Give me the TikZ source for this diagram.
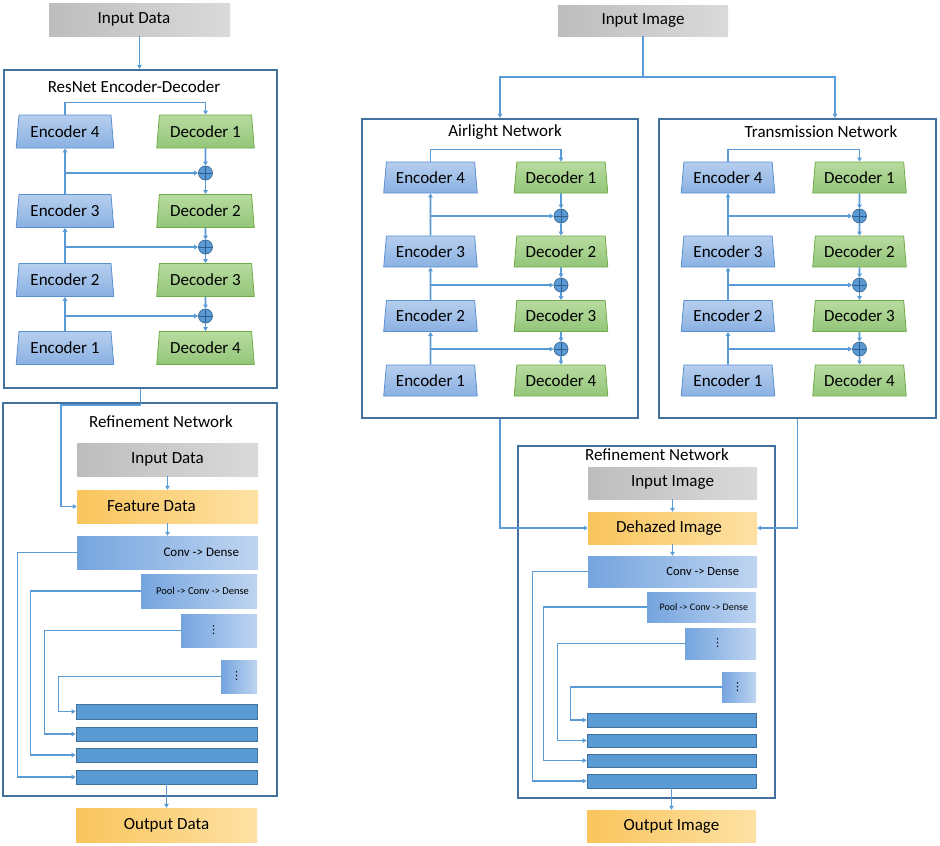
\documentclass[tikz,border=0pt]{standalone}
\usepackage{fontspec}
\setmainfont{Carlito}
\newfontfamily\symfont{DejaVu Sans}
\usetikzlibrary{shapes.geometric,arrows.meta}

\definecolor{frameblue}{HTML}{41719C}
\definecolor{lineblue}{HTML}{5B9BD5}
\definecolor{enctop}{HTML}{B6CEEE}
\definecolor{encbot}{HTML}{8AB1E2}
\definecolor{encline}{HTML}{5A8FD2}
\definecolor{dectop}{HTML}{B8DBA0}
\definecolor{decbot}{HTML}{93C679}
\definecolor{decline}{HTML}{70AD47}
\definecolor{grayl}{HTML}{BDBDBD}
\definecolor{grayr}{HTML}{DADADA}
\definecolor{orgl}{HTML}{F9C55C}
\definecolor{orgr}{HTML}{FDE1A4}
\definecolor{convl}{HTML}{75A4DE}
\definecolor{convr}{HTML}{BFD5F1}
\definecolor{barblue}{HTML}{5B9BD5}
\definecolor{crossc}{HTML}{2F5F90}

\tikzset{
    conn/.style={draw=lineblue, line width=1.6pt},
    arr/.style={conn, -{Triangle[length=4pt,width=4.5pt]}},
    frame/.style={rectangle, draw=frameblue, line width=2.2pt, inner sep=0pt},
    enc/.style={trapezium, trapezium angle=80, trapezium stretches=true,
        draw=encline, line width=0.8pt, top color=enctop, bottom color=encbot, inner sep=0pt},
    dec/.style={trapezium, trapezium angle=80, trapezium stretches=true,
        draw=decline, line width=0.8pt, top color=dectop, bottom color=decbot, inner sep=0pt},
    plus/.style={circle, fill=barblue, draw=frameblue, line width=0.8pt, minimum size=14pt, inner sep=0pt,
        path picture={\draw[crossc, line width=0.8pt]
            (path picture bounding box.north) -- (path picture bounding box.south)
            (path picture bounding box.west) -- (path picture bounding box.east);}},
    graybox/.style={rectangle, left color=grayl, right color=grayr, inner sep=0pt},
    orgbox/.style={rectangle, left color=orgl, right color=orgr, inner ysep=0pt},
    convbox/.style={rectangle, left color=convl, right color=convr, inner ysep=0pt},
    bar/.style={rectangle, fill=barblue, draw=frameblue, line width=0.8pt, inner sep=0pt},
}

\begin{document}
\begin{tikzpicture}[x=1pt, y=-1pt, font=\fontsize{17}{20}\selectfont]
    \useasboundingbox (0,0) rectangle (940,846);

    % frames
    \node[frame, minimum width=273pt, minimum height=318pt] (resnet) at (140.5,229) {};
    \node[frame, minimum width=274pt, minimum height=393pt] (lref) at (140,599.5) {};
    \node[frame, minimum width=276pt, minimum height=299pt] (air) at (500,268.5) {};
    \node[frame, minimum width=277pt, minimum height=299pt] (trans) at (797.5,268.5) {};
    \node[frame, minimum width=257pt, minimum height=352pt] (rref) at (646.5,622) {};

    % titles
    \node (ltitle) at (134,87) {ResNet Encoder-Decoder};
    \node (atitle) at (505,132) {Airlight Network};
    \node (ttitle) at (821,132) {Transmission Network};
    \node (lreftitle) at (161,422) {Refinement Network};
    \node (rreftitle) at (657,455) {Refinement Network};

    % encoder-decoder blocks
    \foreach \p/\ex/\dx/\ya/\yb/\yc/\yd/\ca/\cb/\cc/\w/\h in {
        L/65/205.5/131.5/211/280/348/173/247/316/98/33,
        A/430.5/561/177.5/251.5/316/380.5/216/285/349/94/31,
        T/728/859.5/177.5/251.5/316/380.5/216/285/349/94/31} {
        \node[enc, minimum width=\w pt, minimum height=\h pt] (\p e4) at (\ex,\ya) {Encoder 4};
        \node[enc, minimum width=\w pt, minimum height=\h pt] (\p e3) at (\ex,\yb) {Encoder 3};
        \node[enc, minimum width=\w pt, minimum height=\h pt] (\p e2) at (\ex,\yc) {Encoder 2};
        \node[enc, minimum width=\w pt, minimum height=\h pt] (\p e1) at (\ex,\yd) {Encoder 1};
        \node[dec, minimum width=\w pt, minimum height=\h pt] (\p d1) at (\dx,\ya) {Decoder 1};
        \node[dec, minimum width=\w pt, minimum height=\h pt] (\p d2) at (\dx,\yb) {Decoder 2};
        \node[dec, minimum width=\w pt, minimum height=\h pt] (\p d3) at (\dx,\yc) {Decoder 3};
        \node[dec, minimum width=\w pt, minimum height=\h pt] (\p d4) at (\dx,\yd) {Decoder 4};
        \node[plus] (\p s1) at (\dx,\ca) {};
        \node[plus] (\p s2) at (\dx,\cb) {};
        \node[plus] (\p s3) at (\dx,\cc) {};

        \draw[arr] (\p e1) -- (\p e2);
        \draw[arr] (\p e2) -- (\p e3);
        \draw[arr] (\p e3) -- (\p e4);
        \draw[arr] (\p e4.north) -- ++(0,-12) -| (\p d1.north);
        \draw[arr] (\p d1) -- (\p s1);
        \draw[arr] (\p s1) -- (\p d2);
        \draw[arr] (\p d2) -- (\p s2);
        \draw[arr] (\p s2) -- (\p d3);
        \draw[arr] (\p d3) -- (\p s3);
        \draw[arr] (\p s3) -- (\p d4);
        \draw[arr] (\p e3.north |- \p s1) -- (\p s1);
        \draw[arr] (\p e2.north |- \p s2) -- (\p s2);
        \draw[arr] (\p e1.north |- \p s3) -- (\p s3);
    }

    % left column
    \node[graybox, minimum width=181pt, minimum height=33pt] (lin) at (139.5,19.5) {\makebox[181pt]{\hspace{-11pt}Input Data}};
    \node[graybox, minimum width=181pt, minimum height=33pt] (lrin) at (167.5,459.5) {Input Data};
    \node[orgbox, minimum height=33pt, inner xsep=30pt] (lfeat) at (167.5,506.5) {\makebox[121pt][l]{Feature Data}};
    \node[convbox, minimum height=33pt, inner xsep=19pt, font=\fontsize{13}{15}\selectfont] (lconv) at (167.5,552.5) {\makebox[143pt][r]{Conv -> Dense}};
    \node[convbox, minimum height=34pt, inner xsep=8pt, font=\fontsize{10.5}{12}\selectfont] (lpool) at (199,591) {\makebox[100pt][r]{Pool -> Conv -> Dense}};
    \node[convbox, minimum height=33pt, inner xsep=27pt, font=\fontsize{11}{13}\selectfont] (ldots) at (219,630.5) {\makebox[22pt][l]{\symfont ⋮}};
    \node[convbox, minimum height=33pt, inner xsep=10pt, font=\fontsize{11}{13}\selectfont] (ldotsb) at (239,676.5) {\makebox[16pt][l]{\symfont ⋮}};
    \node[bar, minimum width=181pt, minimum height=15pt] (lbar1) at (166.5,711.5) {};
    \node[bar, minimum width=181pt, minimum height=14pt] (lbar2) at (166.5,734) {};
    \node[bar, minimum width=181pt, minimum height=14pt] (lbar3) at (166.5,755) {};
    \node[bar, minimum width=181pt, minimum height=14pt] (lbar4) at (166.5,777) {};
    \node[orgbox, minimum width=181pt, minimum height=34pt] (lout) at (166.5,825) {Output Data};

    \draw[arr] (lin.south) -- (lin.south |- resnet.north);
    \draw[arr] (resnet.south) -- ++(0,16) -| ([xshift=-16pt]lfeat.west) -- (lfeat.west);
    \draw[arr] (lrin.south) -- (lfeat.north);
    \draw[arr] (lfeat.south) -- (lconv.north);
    \draw[arr] (lconv.west) -| ([xshift=-58pt]lbar4.west) -- (lbar4.west);
    \draw[arr] (lpool.west) -| ([xshift=-45pt]lbar3.west) -- (lbar3.west);
    \draw[arr] (ldots.west) -| ([xshift=-31pt]lbar2.west) -- (lbar2.west);
    \draw[arr] (ldotsb.west) -| ([xshift=-17pt]lbar1.west) -- (lbar1.west);
    \draw[arr] (lbar4.south) -- (lout.north);

    % right column
    \node[graybox, minimum width=170pt, minimum height=31pt] (rin) at (643,20.5) {Input Image};
    \node[graybox, minimum width=169pt, minimum height=32pt] (rrin) at (672.5,483) {Input Image};
    \node[orgbox, minimum height=32pt, inner xsep=28pt] (rdehz) at (672.5,528) {\makebox[113pt][l]{Dehazed Image}};
    \node[convbox, minimum height=31pt, inner xsep=18pt, font=\fontsize{12.5}{15}\selectfont] (rconv) at (672.5,571.5) {\makebox[133pt][r]{Conv -> Dense}};
    \node[convbox, minimum height=30pt, inner xsep=8pt, font=\fontsize{10}{12}\selectfont] (rpool) at (701.5,607) {\makebox[93pt][r]{Pool -> Conv -> Dense}};
    \node[convbox, minimum height=31pt, inner xsep=27pt, font=\fontsize{11}{13}\selectfont] (rdots) at (720.5,643.5) {\makebox[17pt][l]{\symfont ⋮}};
    \node[convbox, minimum height=30pt, inner xsep=10pt, font=\fontsize{11}{13}\selectfont] (rdotsb) at (739,687) {\makebox[14pt][l]{\symfont ⋮}};
    \node[bar, minimum width=169pt, minimum height=14pt] (rbar1) at (671.5,720) {};
    \node[bar, minimum width=169pt, minimum height=13pt] (rbar2) at (671.5,740.5) {};
    \node[bar, minimum width=169pt, minimum height=13pt] (rbar3) at (671.5,760.5) {};
    \node[bar, minimum width=169pt, minimum height=14pt] (rbar4) at (671.5,781) {};
    \node[orgbox, minimum width=169pt, minimum height=32pt] (rout) at (671.5,826) {Output Image};

    \draw[arr] (rin.south) -- ++(0,41) -| (air.north);
    \draw[arr] (rin.south) -- ++(0,41) -| ([xshift=37.5pt]trans.north);
    \draw[arr] (air.south) |- (rdehz.west);
    \draw[arr] (trans.south) |- (rdehz.east);
    \draw[arr] (rrin.south) -- (rdehz.north);
    \draw[arr] (rdehz.south) -- (rconv.north);
    \draw[arr] (rconv.west) -| ([xshift=-54pt]rbar4.west) -- (rbar4.west);
    \draw[arr] (rpool.west) -| ([xshift=-43pt]rbar3.west) -- (rbar3.west);
    \draw[arr] (rdots.west) -| ([xshift=-29pt]rbar2.west) -- (rbar2.west);
    \draw[arr] (rdotsb.west) -| ([xshift=-16pt]rbar1.west) -- (rbar1.west);
    \draw[arr] (rbar4.south) -- (rout.north);

\end{tikzpicture}
\end{document}
